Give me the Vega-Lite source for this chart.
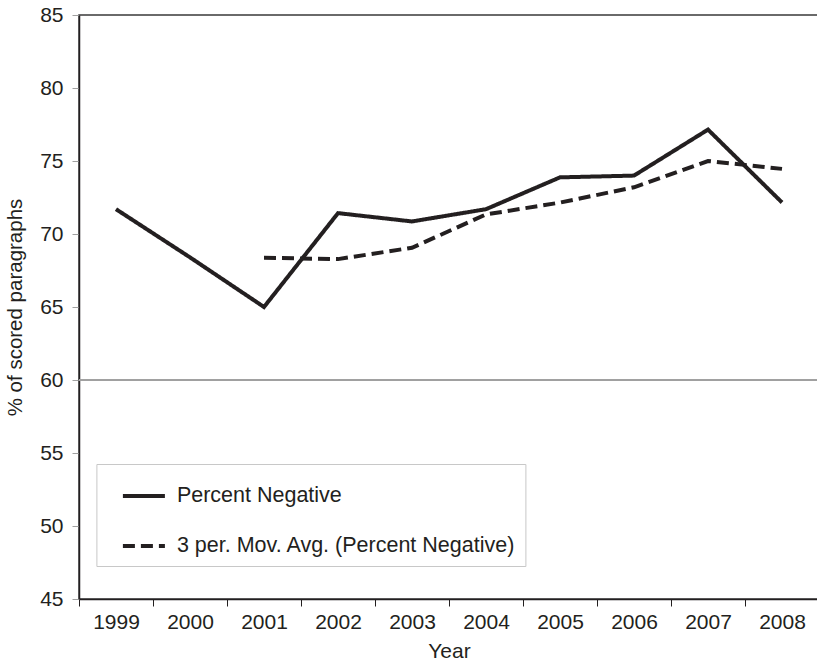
{
  "$schema": "https://vega.github.io/schema/vega-lite/v6.json",
  "autosize": "none",
  "padding": {"left": 79, "top": 15, "right": 0, "bottom": 63},
  "width": 740,
  "height": 584,
  "background": "white",
  "config": {
    "font": "Liberation Sans",
    "view": {"stroke": "#3a3a3a", "strokeWidth": 1.5},
    "axis": {"labelFont": "Liberation Sans", "titleFont": "Liberation Sans", "labelColor": "#231f20", "titleColor": "#231f20", "titleFontWeight": "normal"}
  },
  "data": {
    "values": [
      {"year": "1999", "series": "Percent Negative", "value": 71.7},
      {"year": "2000", "series": "Percent Negative", "value": 68.4},
      {"year": "2001", "series": "Percent Negative", "value": 65.0},
      {"year": "2002", "series": "Percent Negative", "value": 71.43},
      {"year": "2003", "series": "Percent Negative", "value": 70.86},
      {"year": "2004", "series": "Percent Negative", "value": 71.7},
      {"year": "2005", "series": "Percent Negative", "value": 73.88},
      {"year": "2006", "series": "Percent Negative", "value": 74.0},
      {"year": "2007", "series": "Percent Negative", "value": 77.15},
      {"year": "2008", "series": "Percent Negative", "value": 72.16},
      {"year": "2001", "series": "3 per. Mov. Avg. (Percent Negative)", "value": 68.37},
      {"year": "2002", "series": "3 per. Mov. Avg. (Percent Negative)", "value": 68.28},
      {"year": "2003", "series": "3 per. Mov. Avg. (Percent Negative)", "value": 69.06},
      {"year": "2004", "series": "3 per. Mov. Avg. (Percent Negative)", "value": 71.34},
      {"year": "2005", "series": "3 per. Mov. Avg. (Percent Negative)", "value": 72.15},
      {"year": "2006", "series": "3 per. Mov. Avg. (Percent Negative)", "value": 73.2},
      {"year": "2007", "series": "3 per. Mov. Avg. (Percent Negative)", "value": 75.0},
      {"year": "2008", "series": "3 per. Mov. Avg. (Percent Negative)", "value": 74.46}
    ]
  },
  "layer": [
    {
      "mark": {"type": "rule", "color": "#a0a0a0", "strokeWidth": 1},
      "encoding": {"y": {"datum": 60, "type": "quantitative"}}
    },
    {
      "mark": {"type": "line", "strokeWidth": 4, "color": "#231f20", "strokeCap": "butt", "strokeJoin": "miter"},
      "encoding": {
        "x": {
          "field": "year", "type": "ordinal", "bandPosition": 0.5,
          "scale": {"type": "band", "paddingInner": 0, "paddingOuter": 0},
          "axis": {"title": "Year", "titleFontSize": 21, "titlePadding": 8, "labelFontSize": 21, "labelAngle": 0, "labelPadding": 5,
                   "tickBand": "extent", "tickSize": 7, "tickColor": "#231f20", "domainColor": "#231f20", "domainWidth": 1.5, "grid": false}
        },
        "y": {
          "field": "value", "type": "quantitative",
          "scale": {"domain": [45, 85], "nice": false, "zero": false},
          "axis": {"title": "% of scored paragraphs", "titleFontSize": 20.5, "titlePadding": 14, "labelFontSize": 21, "labelPadding": 9,
                   "values": [45, 50, 55, 60, 65, 70, 75, 80, 85], "tickSize": 7, "tickColor": "#a0a0a0",
                   "domainColor": "#231f20", "domainWidth": 1.5, "gridColor": "#d4d4d4", "gridWidth": 1}
        },
        "strokeDash": {
          "field": "series", "type": "nominal",
          "scale": {"domain": ["Percent Negative", "3 per. Mov. Avg. (Percent Negative)"], "range": [[1, 0], [12, 6]]},
          "legend": {
            "title": null, "orient": "none", "legendX": 17.4, "legendY": 449, "direction": "vertical",
            "padding": 9, "strokeColor": "#c8c8c8", "fillColor": "white",
            "symbolType": "stroke", "symbolSize": 1764, "symbolStrokeWidth": 4, "symbolStrokeColor": "#231f20",
            "symbolOffset": 15.5, "labelOffset": 10, "labelFontSize": 21.5, "labelColor": "#231f20", "labelFont": "Liberation Sans",
            "labelLimit": 500, "rowPadding": 16
          }
        }
      }
    }
  ]
}
